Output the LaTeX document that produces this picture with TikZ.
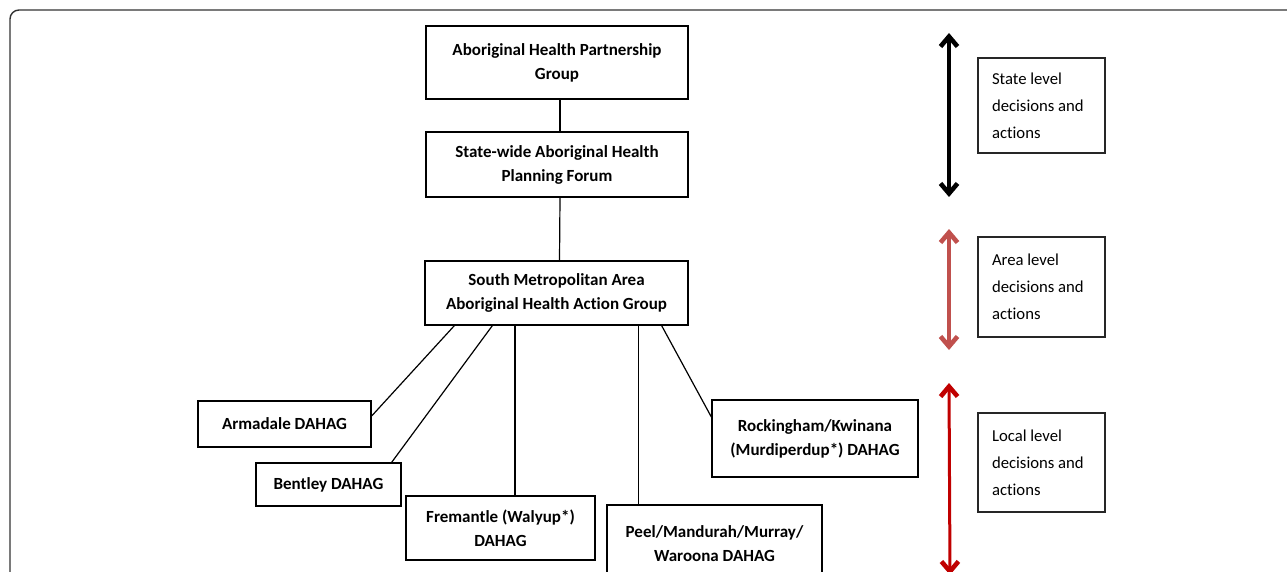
\documentclass[tikz,border=0pt]{standalone}
\usepackage{fontspec}
\setmainfont{Carlito}[Ligatures=NoCommon]
\usetikzlibrary{arrows.meta}
\definecolor{arealvl}{HTML}{C0504D}
\definecolor{locallvl}{HTML}{C00000}
\tikzset{
  orgbox/.style={draw=black, line width=1.3pt, rectangle, align=center, inner sep=0pt,
    font=\bfseries\fontsize{17}{24}\selectfont},
  lvlbox/.style={draw=black!85, line width=1.2pt, rectangle, align=flush left, inner xsep=14pt, inner ysep=0pt,
    text width=99pt, minimum height=95pt, font=\fontsize{16.7}{27}\selectfont},
  link/.style={draw=black, line width=1.2pt},
  lvlarrow/.style={line width=3.4pt, {Straight Barb[length=10pt,width=17pt,line width=4.6pt]}-{Straight Barb[length=10pt,width=17pt,line width=4.6pt]}}
}
\begin{document}
\begin{tikzpicture}[x=1pt,y=-1pt]
\useasboundingbox (0,0) rectangle (1287,572);
\clip (0,0) rectangle (1287,572);
\draw[black!80, line width=1.4pt, rounded corners=9pt] (10,10) rectangle (1320,620);

\node[orgbox, minimum width=262pt, minimum height=73pt] (b1) at (557,62.5) {Aboriginal Health Partnership\\Group};
\node[orgbox, minimum width=262pt, minimum height=65pt] (b2) at (557,164.5) {State-wide Aboriginal Health\\Planning Forum};
\node[orgbox, minimum width=263pt, minimum height=64pt] (b3) at (556.5,293) {South Metropolitan Area\\Aboriginal Health Action Group};

\node[orgbox, minimum width=173pt, minimum height=46pt] (arm) at (284.5,424) {Armadale DAHAG};
\node[orgbox, minimum width=145pt, minimum height=43pt] (ben) at (328.5,484.5) {Bentley DAHAG};
\node[orgbox, minimum width=189pt, minimum height=64pt] (fre) at (500.5,528) {Fremantle (Walyup*)\\DAHAG};
\node[orgbox, minimum width=215pt, minimum height=78pt] (peel) at (714.5,544) {Peel/Mandurah/Murray/\\Waroona DAHAG};
\node[orgbox, minimum width=206pt, minimum height=77pt] (rock) at (815,438.5) {Rockingham/Kwinana\\(Murdiperdup*) DAHAG};

\draw[link] ([xshift=3pt]b1.south) -- ([xshift=3pt]b2.north);
\draw[link] ([xshift=3pt]b2.south) -- ([xshift=3pt]b3.north);
\draw[link] ([xshift=30pt]b3.south west) -- ([yshift=8pt]arm.east);
\draw[link] ([xshift=68pt]b3.south west) -- ([xshift=-10pt]ben.north east);
\draw[link] ([xshift=14.5pt]fre.north) -- ([xshift=14.5pt]fre.north |- b3.south);
\draw[link] ([xshift=32pt]peel.north west) -- ([xshift=32pt]peel.north west |- b3.south);
\draw[link] ([xshift=-27pt]b3.south east) -- ([yshift=21.5pt]rock.west);

\node[lvlbox] (state) at (1041.5,105.5) {State level\\decisions and\\actions};
\node[lvlbox, minimum height=100pt] (area) at (1041.5,287) {Area level\\decisions and\\actions};
\node[lvlbox, minimum height=99pt] (local) at (1041.5,462.5) {Local level\\decisions and\\actions};

\coordinate (st) at (949,33);
\coordinate (sb) at (949,197);
\coordinate (at) at (949,229);
\coordinate (ab) at (949,350);
\coordinate (lt) at (949,383);
\coordinate (lb) at (950,575);
\draw[lvlarrow, black] (st) -- (sb);
\draw[lvlarrow, arealvl] (at) -- (ab);
\draw[lvlarrow, locallvl, line width=3pt] (lt) -- (lb);
\end{tikzpicture}
\end{document}
